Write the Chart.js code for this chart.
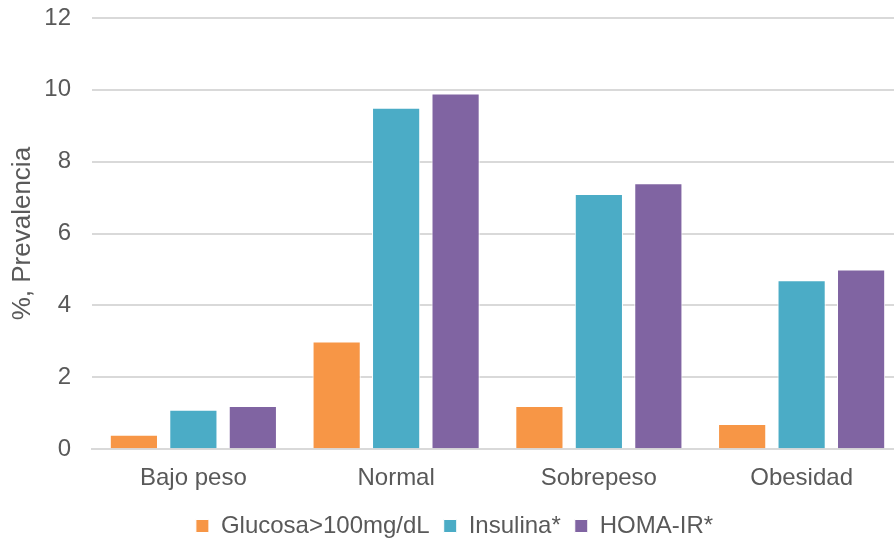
<!DOCTYPE html>
<html>
<head>
<meta charset="utf-8">
<script src="https://cdn.jsdelivr.net/npm/chart.js@4"></script>
<style>
  html, body { margin: 0; padding: 0; background: #fff; overflow: hidden; }
  #wrap { width: 906px; height: 544px; }
</style>
</head>
<body>
<div id="wrap"><canvas id="chart" width="906" height="544"></canvas></div>
<script>
const categories = ["Bajo peso", "Normal", "Sobrepeso", "Obesidad"];
const glucosa = [0.4, 3.0, 1.2, 0.7];
const insulina = [1.1, 9.5, 7.1, 4.7];
const homa = [1.2, 9.9, 7.4, 5.0];
const seriesNames = ["Glucosa>100mg/dL", "Insulina*", "HOMA-IR*"];
const seriesColors = ["#F79646", "#4BACC6", "#8064A2"];

const textColor = "#595959";
const gridColor = "#D9D9D9";
const family = "'Liberation Sans', Arial, sans-serif";
const font = { family: family, size: 24 };

const ctx = document.getElementById("chart");

new Chart(ctx, {
  type: "bar",
  data: {
    labels: categories,
    datasets: [glucosa, insulina, homa].map((values, i) => ({
      label: seriesNames[i],
      data: values,
      backgroundColor: seriesColors[i],
      borderColor: "#FFFFFF",
      borderWidth: 1,
      categoryPercentage: 0.88,
      barPercentage: 0.81,
    })),
  },
  options: {
    responsive: false,
    animation: false,
    layout: { padding: { left: 6, right: 3, top: 18, bottom: -4 } },
    plugins: {
      tooltip: { enabled: false },
      legend: {
        position: "bottom",
        labels: {
          color: textColor,
          font: font,
          boxWidth: 13,
          boxHeight: 13,
          padding: 14,
        },
      },
    },
    scales: {
      x: {
        grid: { display: false },
        border: { color: gridColor, width: 2 },
        ticks: { color: textColor, font: font, padding: 7 },
      },
      y: {
        min: 0,
        max: 12,
        grid: { color: gridColor, lineWidth: 2, drawTicks: false },
        border: { display: false },
        ticks: { stepSize: 2, color: textColor, font: font, padding: 21 },
        title: {
          display: true,
          text: "%, Prevalencia",
          color: textColor,
          font: { family: family, size: 26 },
          padding: { top: 1, bottom: 0 },
        },
        afterFit: (scale) => {
          scale.width = 86;
          scale.paddingTop = 0;
          scale.paddingBottom = 0;
        },
      },
    },
  },
});
</script>
</body>
</html>
